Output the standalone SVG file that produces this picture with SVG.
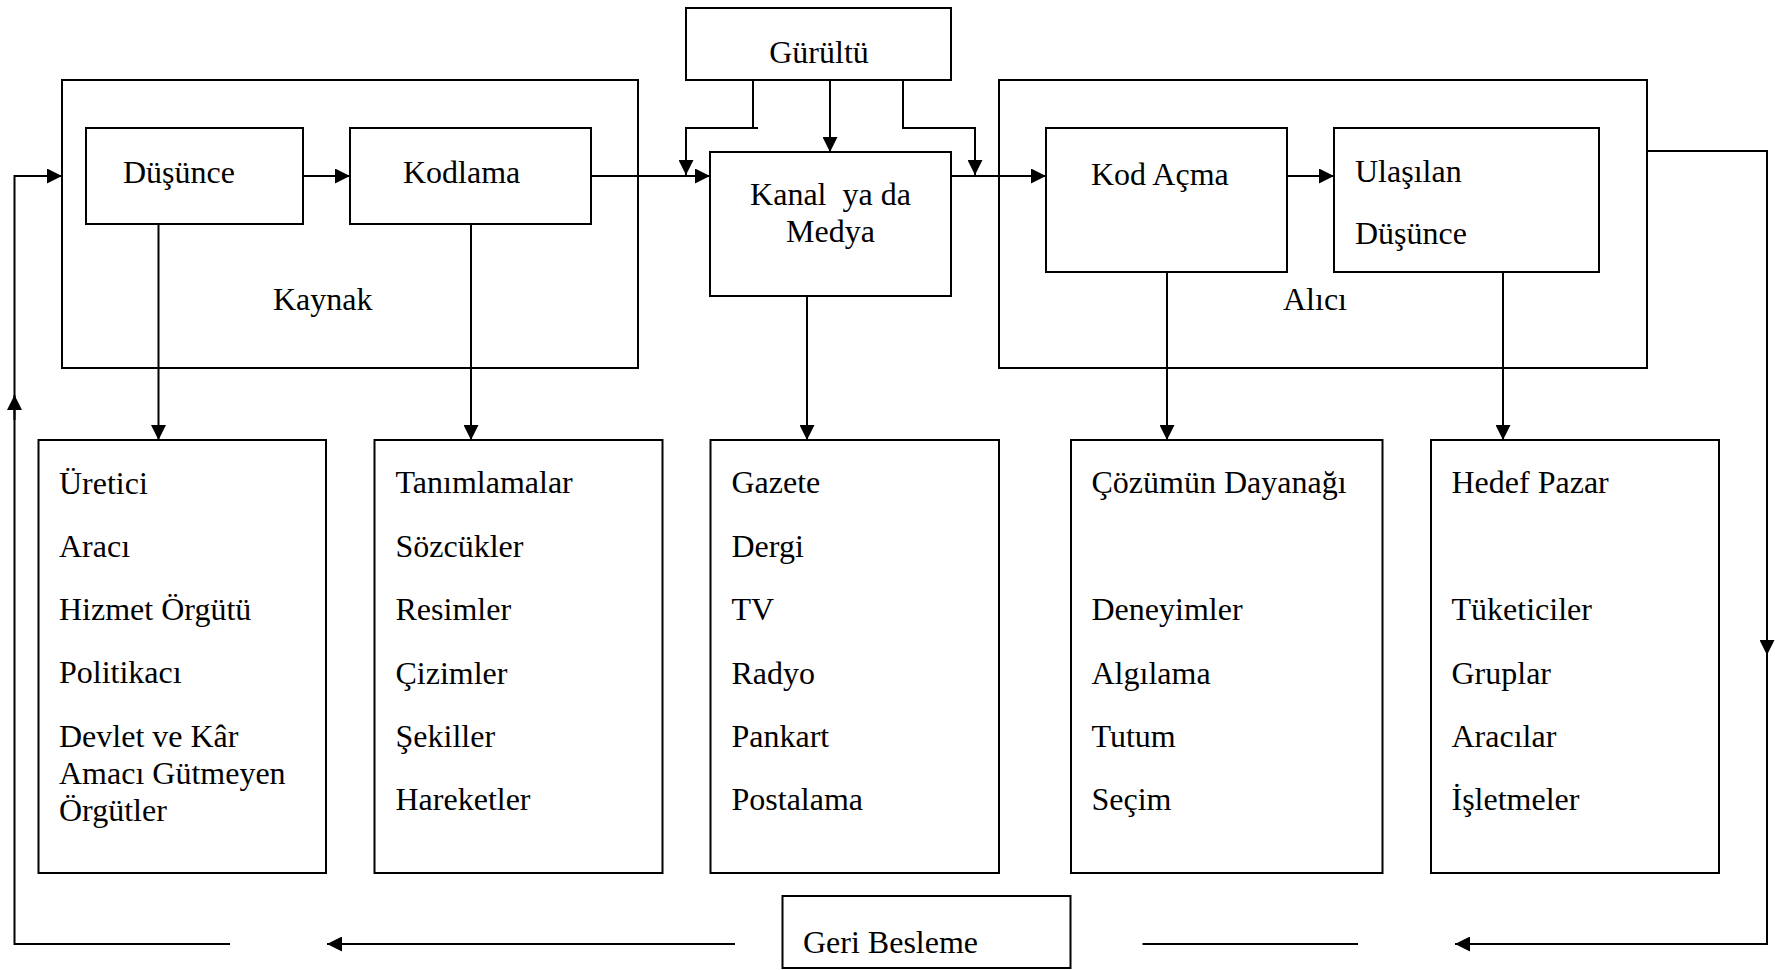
<svg xmlns="http://www.w3.org/2000/svg" width="1775" height="970" viewBox="0 0 1775 970">
<style>
.box{fill:#fff;stroke:#000;stroke-width:2}
.frame{fill:none;stroke:#000;stroke-width:2}
.t{font-family:"Liberation Serif","Times New Roman",serif;font-size:32px;fill:#000}
.c{text-anchor:middle}
.ln{fill:none;stroke:#000;stroke-width:2}
</style>
<defs>
<marker id="ah" viewBox="0 0 15 15" refX="15" refY="7.5" markerWidth="15" markerHeight="15" markerUnits="userSpaceOnUse" orient="auto">
<path d="M0,0 L15,7.5 L0,15 z" fill="#000"/>
</marker>
</defs>
<rect width="1775" height="970" fill="#fff"/>

<g id="kaynak">
<rect class="frame" x="62" y="80" width="576" height="288"/>
<text class="t" x="273" y="310">Kaynak</text>
</g>
<g id="alici">
<rect class="frame" x="999" y="80" width="648" height="288"/>
<text class="t" x="1283" y="310">Alıcı</text>
</g>
<g id="dusunce">
<rect class="box" x="86" y="128" width="217" height="96"/>
<text class="t" x="123" y="183">Düşünce</text>
</g>
<g id="kodlama">
<rect class="box" x="350" y="128" width="241" height="96"/>
<text class="t" x="403" y="183">Kodlama</text>
</g>
<g id="gurultu">
<rect class="box" x="686" y="8" width="265" height="72"/>
<text class="t c" x="819" y="63">Gürültü</text>
</g>
<g id="kanal">
<rect class="box" x="710" y="152" width="241" height="144"/>
<text class="t c" x="830.5" y="205" xml:space="preserve" style="white-space:pre">Kanal  ya da</text>
<text class="t c" x="830.5" y="242">Medya</text>
</g>
<g id="kodacma">
<rect class="box" x="1046" y="128" width="241" height="144"/>
<text class="t" x="1091" y="185">Kod Açma</text>
</g>
<g id="ulasilan">
<rect class="box" x="1334" y="128" width="265" height="144"/>
<text class="t" x="1355" y="182">Ulaşılan</text>
<text class="t" x="1355" y="244">Düşünce</text>
</g>

<g id="list1">
<rect class="box" x="38.5" y="440" width="287.5" height="433"/>
<text class="t" x="59" y="494">Üretici</text>
<text class="t" x="59" y="557">Aracı</text>
<text class="t" x="59" y="620">Hizmet Örgütü</text>
<text class="t" x="59" y="683">Politikacı</text>
<text class="t" x="59" y="747">Devlet ve Kâr</text>
<text class="t" x="59" y="784">Amacı Gütmeyen</text>
<text class="t" x="59" y="821">Örgütler</text>
</g>
<g id="list2">
<rect class="box" x="374.5" y="440" width="288" height="433"/>
<text class="t" x="395.5" y="493">Tanımlamalar</text>
<text class="t" x="395.5" y="557">Sözcükler</text>
<text class="t" x="395.5" y="620">Resimler</text>
<text class="t" x="395.5" y="684">Çizimler</text>
<text class="t" x="395.5" y="747">Şekiller</text>
<text class="t" x="395.5" y="810">Hareketler</text>
</g>
<g id="list3">
<rect class="box" x="710.5" y="440" width="288.5" height="433"/>
<text class="t" x="731.5" y="493">Gazete</text>
<text class="t" x="731.5" y="557">Dergi</text>
<text class="t" x="731.5" y="620">TV</text>
<text class="t" x="731.5" y="684">Radyo</text>
<text class="t" x="731.5" y="747">Pankart</text>
<text class="t" x="731.5" y="810">Postalama</text>
</g>
<g id="list4">
<rect class="box" x="1071" y="440" width="311.5" height="433"/>
<text class="t" x="1091.5" y="493">Çözümün Dayanağı</text>
<text class="t" x="1091.5" y="620">Deneyimler</text>
<text class="t" x="1091.5" y="684">Algılama</text>
<text class="t" x="1091.5" y="747">Tutum</text>
<text class="t" x="1091.5" y="810">Seçim</text>
</g>
<g id="list5">
<rect class="box" x="1431" y="440" width="288" height="433"/>
<text class="t" x="1451.5" y="493">Hedef Pazar</text>
<text class="t" x="1451.5" y="620">Tüketiciler</text>
<text class="t" x="1451.5" y="684">Gruplar</text>
<text class="t" x="1451.5" y="747">Aracılar</text>
<text class="t" x="1451.5" y="810">İşletmeler</text>
</g>
<g id="geribesleme">
<rect class="box" x="782.5" y="896" width="288" height="72"/>
<text class="t" x="803" y="953">Geri Besleme</text>
</g>

<g id="connectors">
<path class="ln" d="M303 176 H350" marker-end="url(#ah)"/>
<path class="ln" d="M591 176 H710" marker-end="url(#ah)"/>
<path class="ln" d="M951 176 H1046" marker-end="url(#ah)"/>
<path class="ln" d="M1287 176 H1334" marker-end="url(#ah)"/>
<path class="ln" d="M753 80 V128 H686 V175" marker-end="url(#ah)"/>
<path class="ln" d="M753 128 H758"/>
<path class="ln" d="M830 80 V152" marker-end="url(#ah)"/>
<path class="ln" d="M903 80 V128 H975 V175" marker-end="url(#ah)"/>
<path class="ln" d="M158.5 224 V440" marker-end="url(#ah)"/>
<path class="ln" d="M471 224 V440" marker-end="url(#ah)"/>
<path class="ln" d="M807 296 V440" marker-end="url(#ah)"/>
<path class="ln" d="M1167 272 V440" marker-end="url(#ah)"/>
<path class="ln" d="M1503 272 V440" marker-end="url(#ah)"/>
<path class="ln" d="M1647 151 H1767 V944 H1455" marker-end="url(#ah)"/>
<path class="ln" d="M1767 630 V655" marker-end="url(#ah)"/>
<path class="ln" d="M1358 944 H1142.5"/>
<path class="ln" d="M735 944 H327" marker-end="url(#ah)"/>
<path class="ln" d="M230 944 H14.5 V176 H62" marker-end="url(#ah)"/>
<path class="ln" d="M14.5 420 V395" marker-end="url(#ah)"/>
</g>
</svg>
